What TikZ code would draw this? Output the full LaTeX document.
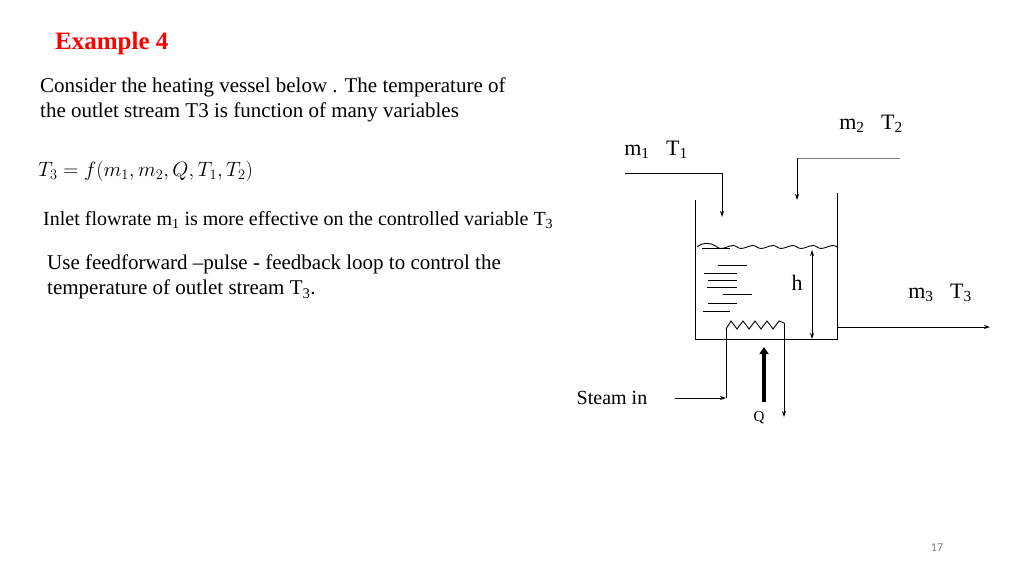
\documentclass[tikz,border=0pt]{standalone}
\usepackage{fontspec}
\setmainfont{Liberation Serif}
\newfontfamily\pgfont{Carlito}
\usetikzlibrary{arrows.meta}
\begin{document}
\begin{tikzpicture}[x=1pt,y=-1pt,
  ln/.style={line width=0.9pt},
  arr/.style={ln,-{Stealth[length=6pt,width=4pt]}},
  txt/.style={font=\fontsize{21}{25}\selectfont,anchor=west,inner sep=0pt,align=left},
  lab/.style={font=\fontsize{22}{26}\selectfont,inner sep=0pt}]
\useasboundingbox[fill=white] (0,0) rectangle (1024,575);
\node[anchor=west,inner sep=0pt,text=red,font=\fontsize{25}{28}\bfseries] (title) at (55,43) {Example 4};
\node[txt,anchor=north west] (t1) at (40,78) {Consider the heating vessel below . The temperature of\\the outlet stream T3 is function of many variables};
\node[txt,font=\fontsize{22}{26}\selectfont] (eq) at (38,171) {$T_3=f(m_1,m_2,Q,T_1,T_2)$};
\node[txt,font=\fontsize{20}{24}\selectfont] (t2) at (43,220) {Inlet flowrate m\textsubscript{1} is more effective on the controlled variable T\textsubscript{3}};
\node[txt,anchor=north west] (t3) at (47,255) {Use feedforward --pulse - feedback loop to control the\\temperature of outlet stream T\textsubscript{3}.};
% vessel
\coordinate (lt) at (695,200); \coordinate (lb) at (695,339);
\coordinate (rt) at (837,193); \coordinate (rb) at (837,339);
\draw[ln] (lt) -- (lb) -- (rb) -- (rt);
% inlets
\coordinate (m1s) at (625,173); \coordinate (m1c) at (722,173); \coordinate (m1e) at (722,217);
\draw[arr] (m1s) -- (m1c) -- (m1e);
\coordinate (m2s) at (900,158); \coordinate (m2c) at (797,158); \coordinate (m2e) at (797,200);
\draw[ln,gray] (m2s) -- (m2c);
\draw[arr] (m2c) -- (m2e);
% liquid surface
\draw[ln] (697,247) .. controls (703,242) and (710,242) .. (717,247)
  foreach \i in {0,...,5} { .. controls ({717+\i*20+6},252) and ({717+\i*20+14},242) .. ({737+\i*20},247) };
\foreach \a/\b/\y in {702/730/248,718/747/265,704/737/273,708/737/280,707/737/287,723/752/294,708/737/303,703/730/311}
  \draw[line width=0.7pt] (\a,\y) -- (\b,\y);
% heater
\coordinate (hs) at (726,329); \coordinate (he) at (784,323);
\draw[ln] (hs) -- (731,321) -- (737,329) -- (743,321) -- (749,329) -- (755,321) -- (761,329) -- (767,321) -- (773,329) -- (779,321) -- (he);
\coordinate (sb) at (726,398); \coordinate (ss) at (675,398);
\draw[ln] (hs) -- (sb);
\draw[arr] (ss) -- (sb);
\coordinate (re) at (784,417);
\draw[arr] (he) -- (re);
\coordinate (qs) at (764,402); \coordinate (qe) at (764,347);
\draw[line width=3.5pt,-{Triangle[length=7pt,width=9pt]}] (qs) -- (qe);
% h
\coordinate (h1) at (812,250); \coordinate (h2) at (812,339);
\draw[ln,{Stealth[length=6pt,width=4pt]}-{Stealth[length=6pt,width=4pt]}] (h1) -- (h2);
% outlet
\coordinate (os) at (837,327); \coordinate (oe) at (990,327);
\draw[arr] (os) -- (oe);
% labels
\node[lab] (lm1) at (656,150) {m\textsubscript{1}\ \ \ T\textsubscript{1}};
\node[lab] (lm2) at (871,124) {m\textsubscript{2}\ \ \ T\textsubscript{2}};
\node[lab] (lm3) at (940,293) {m\textsubscript{3}\ \ \ T\textsubscript{3}};
\node[lab] (lh) at (797,283) {h};
\node[font=\fontsize{20}{24}\selectfont,inner sep=0pt] (lst) at (612,398) {Steam in};
\node[font=\fontsize{15}{17}\selectfont,inner sep=0pt] (lq) at (759,418) {Q};
\node[font=\pgfont\fontsize{12}{14}\selectfont,inner sep=0pt,text=gray] (pg) at (937,548) {17};
\end{tikzpicture}
\end{document}
